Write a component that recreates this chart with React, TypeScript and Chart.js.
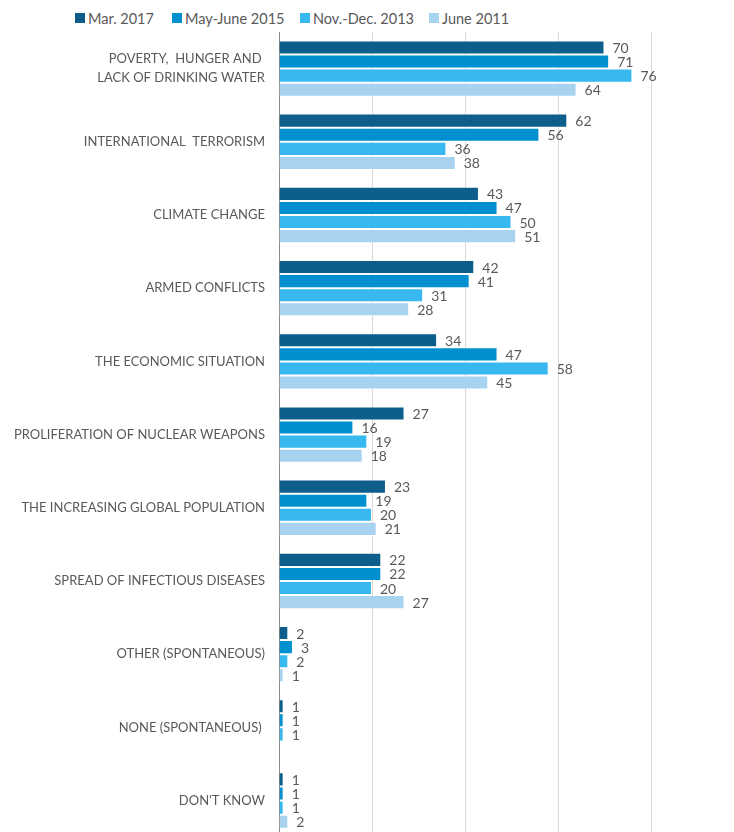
import React, { useEffect, useRef } from "react";
import { Chart, registerables } from "chart.js";

Chart.register(...registerables);

const categories: (string | string[])[] = [
  ["POVERTY,  HUNGER AND ", "LACK OF DRINKING WATER"],
  "INTERNATIONAL  TERRORISM",
  "CLIMATE CHANGE",
  "ARMED CONFLICTS",
  "THE ECONOMIC SITUATION",
  "PROLIFERATION OF NUCLEAR WEAPONS",
  "THE INCREASING GLOBAL POPULATION",
  "SPREAD OF INFECTIOUS DISEASES",
  "OTHER (SPONTANEOUS)",
  "NONE (SPONTANEOUS) ",
  "DON'T KNOW",
];

const seriesNames = ["Mar. 2017", "May-June 2015", "Nov.-Dec. 2013", "June 2011"];

const mar2017 = [70, 62, 43, 42, 34, 27, 23, 22, 2, 1, 1];
const mayJune2015 = [71, 56, 47, 41, 47, 16, 19, 22, 3, 1, 1];
const novDec2013 = [76, 36, 50, 31, 58, 19, 20, 20, 2, 1, 1];
const june2011 = [64, 38, 51, 28, 45, 18, 21, 27, 1, null, 2];

const seriesColors = ["#0E5E8C", "#0090CF", "#37B8EF", "#A8D3F0"];
const legendLeft = [75, 172, 300, 429];

const FONT = "Lato, 'Open Sans', sans-serif";
const TEXT = "#595959";

const valueLabels = {
  id: "valueLabels",
  afterDatasetsDraw(chart: any) {
    const ctx = chart.ctx;
    ctx.save();
    ctx.font = `14px ${FONT}`;
    ctx.fillStyle = TEXT;
    ctx.textBaseline = "middle";
    ctx.textAlign = "left";
    chart.data.datasets.forEach((ds: any, i: number) => {
      const meta = chart.getDatasetMeta(i);
      meta.data.forEach((el: any, j: number) => {
        const v = ds.data[j];
        if (v == null) return;
        ctx.fillText(String(v), el.x + 8, el.y + 1);
      });
    });
    ctx.restore();
  },
};

export default function App() {
  const ref = useRef<HTMLCanvasElement | null>(null);

  useEffect(() => {
    if (!ref.current) return;
    const data = [mar2017, mayJune2015, novDec2013, june2011];
    const chart = new Chart(ref.current, {
      type: "bar",
      data: {
        labels: categories,
        datasets: seriesNames.map((name, i) => ({
          label: name,
          data: data[i],
          backgroundColor: seriesColors[i],
          borderColor: "rgba(255,255,255,0.55)",
          borderWidth: 1,
          categoryPercentage: 0.77,
          barPercentage: 1,
        })),
      },
      options: {
        indexAxis: "y",
        responsive: false,
        animation: false,
        devicePixelRatio: 1,
        layout: { padding: { top: 32, right: 83, bottom: 0, left: 0 } },
        plugins: {
          legend: { display: false },
          tooltip: { enabled: false },
        },
        scales: {
          x: {
            min: 0,
            max: 80,
            ticks: { display: false, stepSize: 20 },
            grid: { color: "#D9D9D9", lineWidth: 1, drawTicks: false },
            border: { display: false },
          },
          y: {
            grid: { display: false, drawTicks: false },
            border: { display: true, color: "#8A8A8A", width: 1 },
            ticks: {
              color: TEXT,
              padding: 14,
              font: { family: FONT, size: 13, lineHeight: 1.45 },
            },
            afterFit(scale: any) {
              scale.width = 279;
            },
          },
        },
      },
      plugins: [valueLabels],
    } as any);
    return () => chart.destroy();
  }, []);

  return (
    <div
      style={{
        position: "fixed",
        left: 0,
        top: 0,
        width: 734,
        height: 832,
        overflow: "hidden",
        background: "#fff",
      }}
    >
      {seriesNames.map((name, i) => (
        <div
          key={name}
          style={{
            position: "absolute",
            left: legendLeft[i],
            top: 9,
            height: 18,
            display: "flex",
            alignItems: "center",
            fontFamily: FONT,
            fontSize: 14.5,
            color: TEXT,
            whiteSpace: "nowrap",
          }}
        >
          <span
            style={{
              display: "inline-block",
              width: 10,
              height: 10,
              background: seriesColors[i],
              marginRight: 3,
            }}
          />
          {name}
        </div>
      ))}
      <canvas
        ref={ref}
        width={734}
        height={870}
        style={{ position: "absolute", left: 0, top: 0, width: 734, height: 870 }}
      />
    </div>
  );
}
